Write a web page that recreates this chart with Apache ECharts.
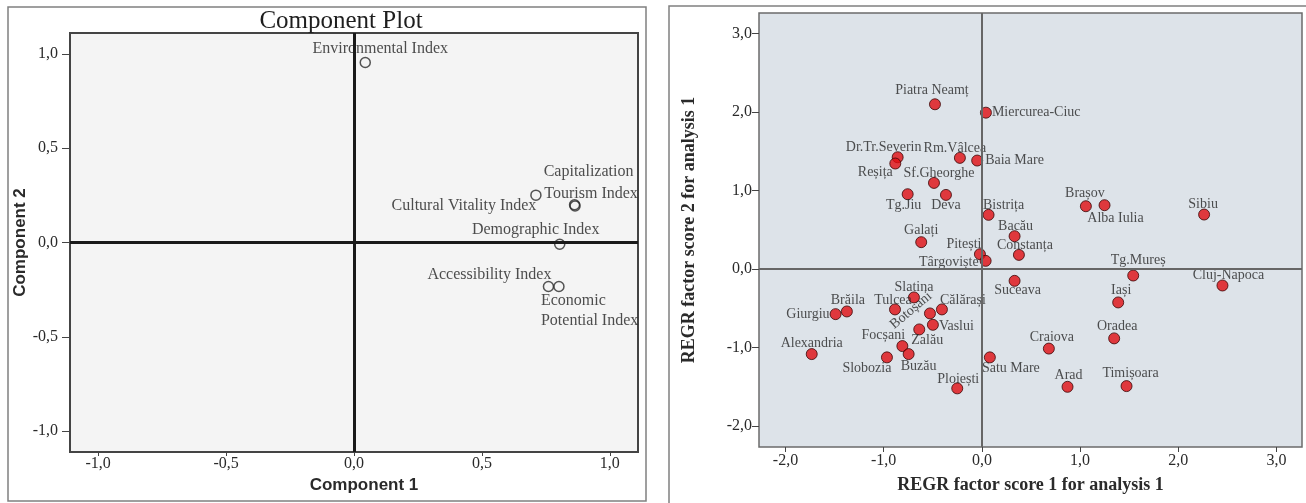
<!DOCTYPE html>
<html>
<head>
<meta charset="utf-8">
<script src="https://cdn.jsdelivr.net/npm/echarts@6/dist/echarts.min.js"></script>
<style>
  html, body { margin: 0; padding: 0; background: #ffffff; }
  #chart { width: 1306px; height: 503px; }
</style>
</head>
<body>
<div id="chart"></div>
<script>
// ---- Component plot: loadings of the indices on the two components ----
const indexNames = ['Environmental Index', 'Cultural Vitality Index', 'Capitalization', 'Tourism Index',
  'Demographic Index', 'Accessibility Index', 'Economic\nPotential Index'];
const component1 = [0.044, 0.711, 0.862, 0.864, 0.804, 0.760, 0.801];
const component2 = [0.954, 0.251, 0.200, 0.194, -0.009, -0.233, -0.233];
const componentTicks = [-1.0, -0.5, 0.0, 0.5, 1.0];

// ---- Regression factor scores of the county capitals ----
const cities = ['Piatra Neamț', 'Miercurea-Ciuc', 'Dr.Tr.Severin', 'Reșița', 'Rm.Vâlcea', 'Baia Mare',
  'Sf.Gheorghe', 'Tg.Jiu', 'Deva', 'Bistrița', 'Brașov', 'Alba Iulia', 'Sibiu', 'Bacău', 'Galați',
  'Pitești', 'Constanța', 'Târgoviște', 'Tg.Mureș', 'Cluj-Napoca', 'Suceava', 'Slatina', 'Brăila',
  'Giurgiu', 'Tulcea', 'Botoșani', 'Călărași', 'Vaslui', 'Zalău', 'Focșani', 'Buzău', 'Slobozia',
  'Alexandria', 'Ploiești', 'Satu Mare', 'Craiova', 'Arad', 'Timișoara', 'Oradea', 'Iași'];
const factorScore1 = [-0.478, 0.041, -0.858, -0.882, -0.224, -0.048, -0.488, -0.756, -0.366, 0.068,
  1.059, 1.249, 2.263, 0.333, -0.618, -0.020, 0.377, 0.038, 1.541, 2.450, 0.333, -0.692, -1.375,
  -1.490, -0.885, -0.529, -0.407, -0.499, -0.638, -0.810, -0.746, -0.967, -1.733, -0.251, 0.081,
  0.682, 0.872, 1.473, 1.347, 1.388];
const factorScore2 = [2.097, 1.990, 1.422, 1.342, 1.414, 1.380, 1.095, 0.951, 0.942, 0.688,
  0.798, 0.811, 0.692, 0.416, 0.340, 0.187, 0.178, 0.102, -0.085, -0.212, -0.153, -0.364, -0.543,
  -0.577, -0.517, -0.568, -0.517, -0.713, -0.772, -0.984, -1.086, -1.128, -1.086, -1.523, -1.128,
  -1.016, -1.503, -1.494, -0.886, -0.428];
const scoreTicks = [-2.0, -1.0, 0.0, 1.0, 2.0, 3.0];

// Label placement around each marker: [dx, dy, align, rotate]
const indexLabelPlace = {
  'Environmental Index': [15, -14],
  'Cultural Vitality Index': [-72, 11],
  'Capitalization': [14, -33],
  'Tourism Index': [16, -12],
  'Demographic Index': [-24, -14],
  'Accessibility Index': [-59, -12],
  'Economic\nPotential Index': [-18, 24, 'left']
};
const cityLabelPlace = {
  'Piatra Neamț': [-3, -14], 'Miercurea-Ciuc': [6, 0, 'left'], 'Dr.Tr.Severin': [-14, -10],
  'Reșița': [-20, 9], 'Rm.Vâlcea': [-5, -10], 'Baia Mare': [8, 0, 'left'], 'Sf.Gheorghe': [5, -10],
  'Tg.Jiu': [-4, 11], 'Deva': [0, 10], 'Bistrița': [15, -10], 'Brașov': [-1, -13],
  'Alba Iulia': [11, 13], 'Sibiu': [-1, -10], 'Bacău': [1, -10], 'Galați': [0, -12],
  'Pitești': [-16, -10], 'Constanța': [6, -10], 'Târgoviște': [-7, 1, 'right'], 'Tg.Mureș': [5, -15],
  'Cluj-Napoca': [6, -10], 'Suceava': [3, 9], 'Slatina': [0, -10], 'Brăila': [1, -11],
  'Giurgiu': [-6, 0, 'right'], 'Tulcea': [-2, -9], 'Botoșani': [-12.6, -14.5, 'center', 40],
  'Călărași': [21, -9], 'Vaslui': [6, 2, 'left'], 'Zalău': [8, 11], 'Focșani': [-19, -11],
  'Buzău': [10, 12], 'Slobozia': [-20, 11], 'Alexandria': [0, -11], 'Ploiești': [1, -9],
  'Satu Mare': [21, 11], 'Craiova': [3, -11], 'Arad': [1, -11], 'Timișoara': [4, -13],
  'Oradea': [3, -12], 'Iași': [3, -12]
};

const SERIF = '"Liberation Serif", "Times New Roman", serif';
const SANS = '"Liberation Sans", Arial, sans-serif';
const commaFmt = v => Number(v).toFixed(1).replace('.', ',');

function pointsWithLabels(names, xs, ys, place) {
  return names.map((n, i) => {
    const p = place[n] || [0, -10];
    return {
      name: n,
      value: [xs[i], ys[i]],
      label: {
        offset: [p[0], p[1]],
        align: p[2] || 'center',
        rotate: p[3] || 0
      }
    };
  });
}

function valueAxis(min, max, ticks, tickLen, labelMargin, extra) {
  return Object.assign({
    type: 'value',
    min: min,
    max: max,
    splitLine: { show: false },
    axisLine: { show: false, onZero: false },
    axisTick: { show: true, customValues: ticks, length: tickLen, lineStyle: { color: '#444', width: 1 } },
    axisLabel: {
      customValues: ticks, formatter: commaFmt, margin: labelMargin,
      fontFamily: SERIF, fontSize: 16, color: '#2a2a2a'
    }
  }, extra);
}

const chart = echarts.init(document.getElementById('chart'), null, { renderer: 'canvas' });

chart.setOption({
  animation: false,
  backgroundColor: '#ffffff',
  title: {
    text: 'Component Plot',
    left: 336, top: 4, textAlign: 'center',
    textStyle: { fontFamily: SERIF, fontSize: 25, fontWeight: 'normal', color: '#1e1e1e' }
  },
  graphic: [
    { type: 'rect', shape: { x: 8, y: 7, width: 638, height: 494 }, z: -10,
      style: { fill: '#ffffff', stroke: '#808080', lineWidth: 1.5 } },
    { type: 'rect', shape: { x: 669, y: 6, width: 700, height: 600 }, z: -10,
      style: { fill: '#ffffff', stroke: '#808080', lineWidth: 1.5 } }
  ],
  grid: [
    { left: 70, top: 33, width: 568, height: 419, show: true,
      backgroundColor: '#f4f4f4', borderColor: '#444', borderWidth: 2 },
    { left: 759, top: 13, width: 543, height: 434, show: true,
      backgroundColor: '#dde3e9', borderColor: '#6b6b6b', borderWidth: 1.5 }
  ],
  xAxis: [
    valueAxis(-1.11, 1.11, componentTicks, 4, 4, {
      gridIndex: 0, name: 'Component 1', nameLocation: 'middle', nameGap: 25,
      nameTextStyle: { fontFamily: SANS, fontSize: 17, fontWeight: 'bold', color: '#2a2a2a', padding: [0, 0, 0, 20] }
    }),
    valueAxis(-2.27, 3.26, scoreTicks, 5, 6, {
      gridIndex: 1, name: 'REGR factor score 1 for analysis 1', nameLocation: 'middle', nameGap: 29,
      nameTextStyle: { fontFamily: SERIF, fontSize: 18, fontWeight: 'bold', color: '#2a2a2a' }
    })
  ],
  yAxis: [
    valueAxis(-1.11, 1.11, componentTicks, 8, 12, {
      gridIndex: 0, name: 'Component 2', nameLocation: 'middle', nameGap: 38,
      nameTextStyle: { fontFamily: SANS, fontSize: 17, fontWeight: 'bold', color: '#2a2a2a' }
    }),
    valueAxis(-2.27, 3.26, scoreTicks, 7, 7, {
      gridIndex: 1, name: 'REGR factor score 2 for analysis 1', nameLocation: 'middle', nameGap: 61,
      nameTextStyle: { fontFamily: SERIF, fontSize: 18, fontWeight: 'bold', color: '#2a2a2a' }
    })
  ],
  series: [
    {
      type: 'scatter',
      name: 'Component loadings',
      xAxisIndex: 0, yAxisIndex: 0,
      silent: true,
      symbol: 'circle',
      symbolSize: 10,
      itemStyle: { color: 'rgba(0,0,0,0)', borderColor: '#2a2a2a', borderWidth: 1.5 },
      label: {
        show: true, position: 'inside', formatter: '{b}', verticalAlign: 'middle',
        fontFamily: SERIF, fontSize: 16, color: '#222', lineHeight: 20
      },
      markLine: {
        silent: true, symbol: ['none', 'none'], label: { show: false },
        lineStyle: { color: '#1a1a1a', width: 3, type: 'solid' },
        data: [{ xAxis: 0 }, { yAxis: 0 }]
      },
      data: pointsWithLabels(indexNames, component1, component2, indexLabelPlace)
    },
    {
      type: 'scatter',
      name: 'Factor scores',
      xAxisIndex: 1, yAxisIndex: 1,
      silent: true,
      symbol: 'circle',
      symbolSize: 11,
      itemStyle: { color: '#e00d12', borderColor: '#3a0606', borderWidth: 1 },
      label: {
        show: true, position: 'inside', formatter: '{b}', verticalAlign: 'middle',
        fontFamily: SERIF, fontSize: 14, color: '#262626'
      },
      markLine: {
        silent: true, symbol: ['none', 'none'], label: { show: false },
        lineStyle: { color: '#666666', width: 2, type: 'solid' },
        data: [{ xAxis: 0 }, { yAxis: 0 }]
      },
      data: pointsWithLabels(cities, factorScore1, factorScore2, cityLabelPlace)
    }
  ]
});
</script>
</body>
</html>
